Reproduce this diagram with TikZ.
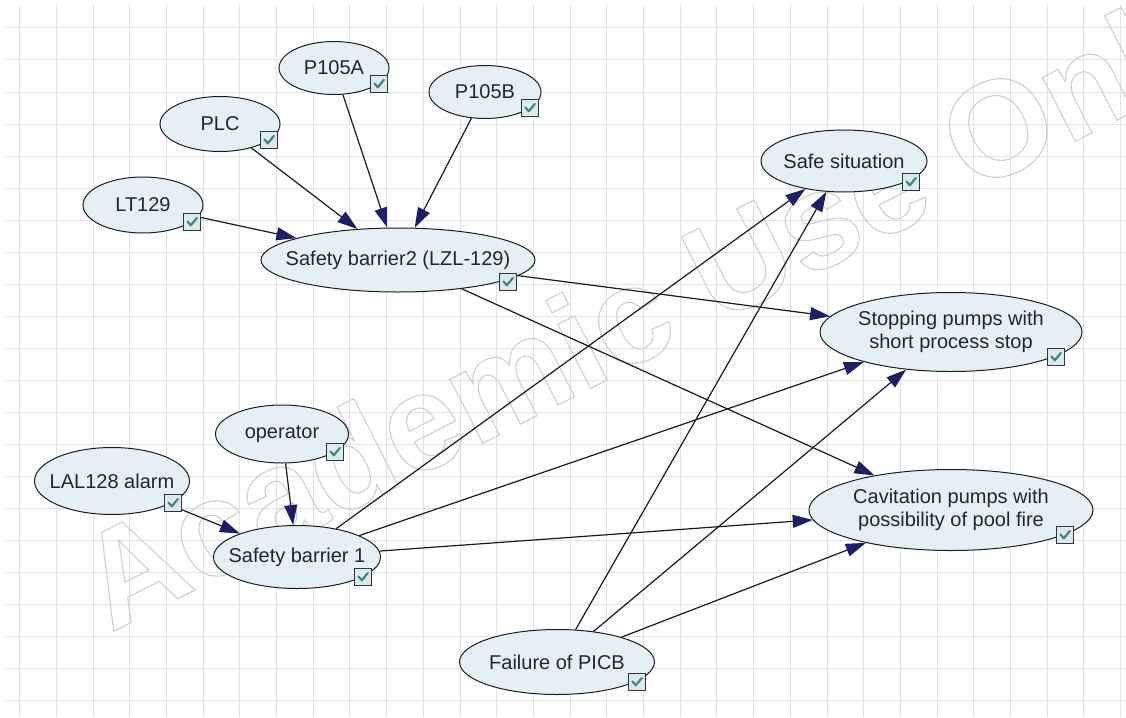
\documentclass[tikz,border=0pt]{standalone}
\usepackage{fontspec}
\setmainfont{Liberation Sans}
\usetikzlibrary{shapes.geometric,arrows.meta,calc}

\definecolor{gridc}{RGB}{226,226,226}
\definecolor{nodefill}{RGB}{229,240,244}
\definecolor{nodeline}{RGB}{28,28,28}
\definecolor{edgec}{RGB}{24,24,36}
\definecolor{headc}{RGB}{30,30,100}
\definecolor{boxline}{RGB}{40,55,65}
\definecolor{boxfill}{RGB}{222,233,236}
\definecolor{tick}{RGB}{60,135,140}
\definecolor{wmark}{RGB}{206,206,206}

\tikzset{
  bn/.style={ellipse, draw=nodeline, line width=1pt, fill=nodefill, inner sep=0pt},
  bntext/.style={font=\fontsize{20}{23}\selectfont, text=black!85, align=center, inner sep=0pt},
  chkbox/.style={draw=boxline, line width=1.1pt, fill=boxfill, minimum size=17pt, inner sep=0pt},
  chkmark/.style={draw=tick, line width=2.2pt, line cap=round, line join=round},
  edge/.style={draw=edgec, line width=1.2pt,
    -{Triangle[length=20pt,width=13pt,fill=headc,color=headc]}},
  wm/.style={anchor=base west, inner sep=0pt, rotate=27, text=wmark,
    font=\fontsize{136}{136}\selectfont\bfseries},
}

% outlined (stroked, unfilled) lettering
\newcommand\outlined[1]{%
  \special{pdf:literal direct 1 Tr 1.1 w}#1\special{pdf:literal direct 0 Tr}}

% ellipse with its centred label: name, x, y, width, height, text
\newcommand\bnnode[6]{%
  \node[bn, minimum width=#4pt, minimum height=#5pt] (#1) at (#2,#3) {};
  \node[bntext] (#1-text) at (#1.center) {#6};
}
% ticked state box of a node: name, x, y
\newcommand\bnbox[3]{%
  \node[chkbox] (#1-box) at (#2,#3) {};
  \draw[chkmark] ($(#1-box.center)+(-4.5,-0.5)$) -- ($(#1-box.center)+(-1.2,3.3)$)
    -- ($(#1-box.center)+(4.8,-4)$);
}

\begin{document}
\begin{tikzpicture}[x=1pt,y=-1pt]
  \useasboundingbox (0,0) rectangle (1126,717);
  \fill[white] (0,0) rectangle (1126,717);

  % grid
  \foreach \i in {0,...,30}
    \draw[gridc, line width=1pt] ({19.6+36.7*\i},5) -- ({19.6+36.7*\i},717);
  \foreach \j in {0,...,21}
    \draw[gridc, line width=1pt] (5,{28+32*\j}) -- (1126,{28+32*\j});

  % watermark
  \node[wm] (mark) at (110.5,633) {\outlined{Academic Use Only}};

  % nodes
  \bnnode{lt129}{143}{205}{120}{56}{LT129}
  \bnnode{plc}{220}{124}{120}{55}{PLC}
  \bnnode{pa}{334}{68}{110}{53}{P105A}
  \bnnode{pb}{485}{92}{112}{53}{P105B}
  \bnnode{sbtwo}{398}{260}{274}{64}{Safety barrier2 (LZL-129)}
  \bnnode{safe}{844}{161}{166}{62}{Safe situation}
  \bnnode{stop}{951}{332}{262}{79}{Stopping pumps with\\short process stop}
  \bnnode{cav}{951}{510}{284}{81}{Cavitation pumps with\\possibility of pool fire}
  \bnnode{oper}{282}{434}{133}{58}{operator}
  \bnnode{lal}{112}{481}{155}{67}{LAL128 alarm}
  \bnnode{sbone}{297}{557}{167}{63}{Safety barrier 1}
  \bnnode{fail}{557}{662}{195}{65}{Failure of PICB}

  % dependencies
  \draw[edge] (lt129) -- (sbtwo);
  \draw[edge] (plc) -- (sbtwo);
  \draw[edge] (pa) -- (sbtwo);
  \draw[edge] (pb) -- (sbtwo);
  \draw[edge] (sbtwo) -- (stop);
  \draw[edge] (sbtwo) -- (cav);
  \draw[edge] (oper) -- (sbone);
  \draw[edge] (lal) -- (sbone);
  \draw[edge] (sbone) -- (safe);
  \draw[edge] (sbone) -- (stop);
  \draw[edge] (sbone) -- (cav);
  \draw[edge] (fail) -- (safe);
  \draw[edge] (fail) -- (stop);
  \draw[edge] (fail) -- (cav);

  % state boxes
  \bnbox{lt129}{192}{222}
  \bnbox{plc}{269}{140}
  \bnbox{pa}{379}{84}
  \bnbox{pb}{530}{108}
  \bnbox{sbtwo}{508}{282}
  \bnbox{safe}{911}{182}
  \bnbox{stop}{1056}{357}
  \bnbox{cav}{1065}{535}
  \bnbox{oper}{335}{452}
  \bnbox{lal}{173}{503}
  \bnbox{sbone}{363}{577}
  \bnbox{fail}{637}{682}
\end{tikzpicture}
\end{document}
